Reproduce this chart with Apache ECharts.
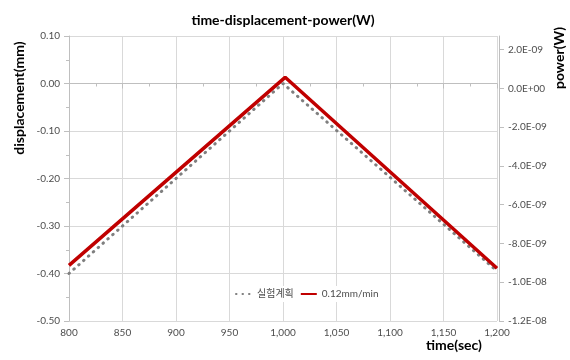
<!DOCTYPE html>
<html lang="en">
<head>
    <meta charset="UTF-8">
    <title>time-displacement-power(W)</title>
    <script src="https://cdn.jsdelivr.net/npm/echarts@6/dist/echarts.min.js"></script>
    <style>
        html, body { margin: 0; padding: 0; background: #fff; }
        #chart { width: 570px; height: 360px; }
    </style>
</head>
<body>
<div id="chart"></div>
<script>
    // data
    var planName = '실험계획';
    var planTime = [800, 1000, 1200];
    var planDisp = [-0.40, 0.00, -0.395];

    var testName = '0.12mm/min';
    var testTime = [800, 1002, 1200];
    var testDisp = [-0.383, 0.013, -0.389];

    // right axis tick values (power, W)
    var powerTicks = [-1.2e-8, -1.0e-8, -8e-9, -6e-9, -4e-9, -2e-9, 0, 2e-9];

    var font = 'Lato, "Noto Sans CJK KR", sans-serif';
    var labelColor = '#4d4d4d';
    var axisColor = '#bfbfbf';
    var gridColor = '#d9d9d9';

    function pairs(xs, ys) {
        var out = [];
        for (var i = 0; i < xs.length; i++) out.push([xs[i], ys[i]]);
        return out;
    }

    // excel-like scientific label, e.g. 2.0E-09
    function sci(v) {
        if (Math.abs(v) < 1e-15) return '0.0E+00';
        var s = v.toExponential(1).split('e');
        var e = parseInt(s[1], 10);
        var es = (e < 0 ? '-' : '+') + (Math.abs(e) < 10 ? '0' : '') + Math.abs(e);
        return s[0] + 'E' + es;
    }

    var chart = echarts.init(document.getElementById('chart'));

    chart.setOption({
        animation: false,
        textStyle: { fontFamily: font },
        title: {
            text: 'time-displacement-power(W)',
            left: 278,
            top: 8,
            textAlign: 'center',
            textStyle: { fontFamily: font, fontSize: 14, fontWeight: 'bold', color: '#000' }
        },
        grid: { left: 69, right: 73, top: 36, bottom: 39 },
        legend: {
            left: 230,
            top: 286,
            padding: [3, 5],
            backgroundColor: '#fff',
            itemWidth: 16,
            itemHeight: 8,
            itemGap: 6,
            itemStyle: { opacity: 0 },
            textStyle: { fontFamily: font, fontSize: 10, color: labelColor },
            data: [planName, testName]
        },
        graphic: [
            {
                type: 'text', x: 19, y: 98, rotation: Math.PI / 2,
                style: { text: 'displacement(mm)', font: 'bold 14px ' + font, fill: '#000', align: 'center', verticalAlign: 'middle' }
            },
            {
                type: 'text', x: 559, y: 58, rotation: Math.PI / 2,
                style: { text: 'power(W)', font: 'bold 14px ' + font, fill: '#000', align: 'center', verticalAlign: 'middle' }
            },
            {
                type: 'text', x: 454, y: 345,
                style: { text: 'time(sec)', font: 'bold 14px ' + font, fill: '#000', align: 'center', verticalAlign: 'middle' }
            }
        ],
        xAxis: {
            type: 'value',
            min: 800,
            max: 1200,
            interval: 50,
            axisLine: { show: true, lineStyle: { color: axisColor } },
            axisTick: { show: true, length: 5, lineStyle: { color: axisColor } },
            minorTick: { show: true, splitNumber: 2, length: 3, lineStyle: { color: axisColor } },
            splitLine: { show: true, lineStyle: { color: gridColor } },
            axisLabel: {
                margin: 7, fontSize: 10, color: labelColor, fontFamily: font,
                formatter: function (v) { return v.toLocaleString('en-US'); }
            }
        },
        yAxis: [
            {
                type: 'value',
                min: -0.5,
                max: 0.1,
                interval: 0.1,
                axisLine: { show: true, lineStyle: { color: axisColor } },
                axisTick: { show: true, length: 5, lineStyle: { color: axisColor } },
                minorTick: { show: true, splitNumber: 2, length: 3, lineStyle: { color: axisColor } },
                splitLine: { show: true, lineStyle: { color: gridColor } },
                axisLabel: {
                    margin: 9, fontSize: 10, color: labelColor, fontFamily: font,
                    formatter: function (v) { return v.toFixed(2); }
                }
            },
            {
                type: 'value',
                position: 'right',
                min: -1.2e-8,
                max: 2.7e-9,
                offset: 2,
                axisLine: { show: true, lineStyle: { color: axisColor } },
                axisTick: { show: true, length: 5, customValues: powerTicks, lineStyle: { color: axisColor } },
                splitLine: { show: false },
                axisLabel: {
                    margin: 9, fontSize: 10, color: labelColor, fontFamily: font,
                    customValues: powerTicks,
                    formatter: sci
                }
            }
        ],
        series: [
            {
                name: planName,
                type: 'line',
                symbol: 'none',
                data: pairs(planTime, planDisp),
                lineStyle: { color: '#7f7f7f', width: 3, type: [0.5, 6], cap: 'round' },
                itemStyle: { color: '#7f7f7f' }
            },
            {
                name: testName,
                type: 'line',
                symbol: 'none',
                data: pairs(testTime, testDisp),
                lineStyle: { color: '#c00000', width: 3.5 },
                itemStyle: { color: '#c00000' }
            }
        ]
    });
</script>
</body>
</html>
